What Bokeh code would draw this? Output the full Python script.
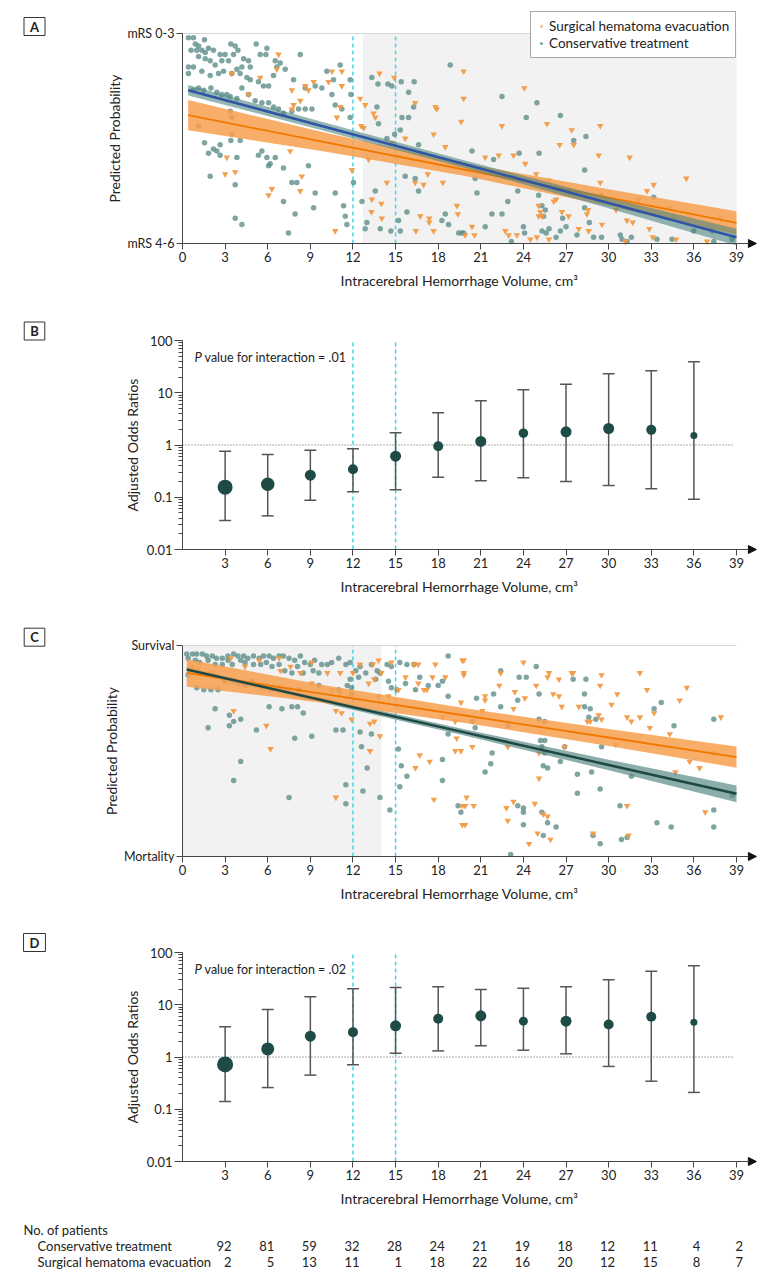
import numpy as np
from bokeh.plotting import figure
from bokeh.models import (Range1d, FixedTicker, Label, Legend, LegendItem, Arrow,
                          NormalHead, PrintfTickFormatter)
from bokeh.layouts import column
from bokeh.embed import file_html
from bokeh.resources import INLINE
from bokeh.core.properties import value

FONT = "Lato"
TXT = "#222222"
AX = "#444444"
TEAL = "#5F8F8B"
ORANGE = "#F29A45"
DARK = "#1F4B47"
CYAN = "#3FD7E6"

# ---------------- data ----------------
volume_ticks = list(range(0, 40, 3))
or_ticks = list(range(3, 40, 3))
or_volumes = list(range(3, 37, 3))
count_volumes = list(range(3, 40, 3))
n_conservative = [92, 81, 59, 32, 28, 24, 21, 19, 18, 12, 11, 4, 2]
n_surgical = [2, 5, 13, 11, 1, 18, 22, 16, 20, 12, 15, 8, 7]

thresholds = [12, 15]
shade_A = [12.7, 39]
shade_C = [0, 14]

# Panel B: functional outcome odds ratios
B_or = [0.156, 0.178, 0.264, 0.344, 0.61, 0.95, 1.17, 1.68, 1.79, 2.07, 1.95, 1.52]
B_lo = [0.036, 0.044, 0.088, 0.127, 0.139, 0.242, 0.206, 0.236, 0.20, 0.168, 0.145, 0.092]
B_hi = [0.76, 0.66, 0.79, 0.85, 1.71, 4.13, 7.0, 11.4, 14.6, 23.0, 26.3, 39.1]
B_size = [15, 13.5, 11, 10, 11, 10, 11, 9.5, 11, 11, 10, 7]

# Panel D: mortality odds ratios
D_or = [0.72, 1.43, 2.5, 2.99, 3.96, 5.38, 6.14, 4.85, 4.85, 4.19, 5.88, 4.63]
D_lo = [0.14, 0.26, 0.45, 0.71, 1.18, 1.31, 1.64, 1.35, 1.15, 0.66, 0.344, 0.21]
D_hi = [3.78, 8.1, 14.2, 20.2, 21.4, 22.0, 19.6, 20.7, 22.0, 30.0, 43.9, 55.7]
D_size = [16, 13, 11, 10, 11, 10, 11, 9, 11, 10, 10, 7]

# Panel A fitted lines (predicted probability of mRS 0-3)
fit_x_A = [0.4, 10, 20, 30, 39]
A_cons_fit = [0.73, 0.556, 0.375, 0.193, 0.03]
A_cons_half = [0.025, 0.02, 0.018, 0.025, 0.04]
A_surg_fit = [0.611, 0.483, 0.35, 0.218, 0.098]
A_surg_half = [0.072, 0.045, 0.03, 0.04, 0.055]

# Panel C fitted lines (predicted probability of survival)
fit_x_C = [0.3, 10, 20, 30, 39]
C_cons_fit = [0.886, 0.738, 0.586, 0.434, 0.297]
C_cons_half = [0.012, 0.012, 0.015, 0.025, 0.04]
C_surg_fit = [0.87, 0.77, 0.667, 0.564, 0.471]
C_surg_half = [0.065, 0.042, 0.035, 0.04, 0.05]

A_conservative_pts = [
    (0.42, 0.98), (0.77, 0.98), (1.55, 0.97), (0.9, 0.95), (1.13, 0.94), (0.6, 0.92), (1.0, 0.92), (1.36, 0.92), (1.6, 0.91), (1.83, 0.93),
    (2.18, 0.92), (2.65, 0.90), (3.0, 0.90), (3.4, 0.95), (3.71, 0.94), (3.9, 0.92), (3.59, 0.90), (4.3, 0.88), (5.19, 0.95), (5.94, 0.93),
    (5.47, 0.90), (5.87, 0.90), (4.65, 0.87), (4.77, 0.84), (4.18, 0.84), (3.83, 0.83), (3.24, 0.87), (2.77, 0.87), (2.3, 0.85), (1.95, 0.87),
    (1.6, 0.88), (1.13, 0.89), (0.42, 0.84), (0.77, 0.84), (1.36, 0.82), (0.42, 0.81), (1.95, 0.80), (2.54, 0.81), (2.89, 0.82), (3.47, 0.81),
    (4.06, 0.81), (4.53, 0.79), (4.77, 0.78), (5.35, 0.77), (5.7, 0.75), (6.06, 0.75), (6.53, 0.87), (6.64, 0.84), (6.41, 0.80), (6.88, 0.86),
    (7.23, 0.83), (8.29, 0.90), (7.82, 0.78), (8.64, 0.74), (9.34, 0.75), (9.81, 0.74), (10.16, 0.82), (11.1, 0.85), (10.63, 0.78), (10.52, 0.71),
    (10.75, 0.66), (11.22, 0.64), (11.8, 0.78), (11.8, 0.60), (11.85, 0.71),
    (0.77, 0.73), (1.13, 0.74), (1.5, 0.73), (2.0, 0.74), (2.42, 0.72), (2.77, 0.71), (3.12, 0.71), (3.36, 0.70), (3.83, 0.69), (4.18, 0.74),
    (4.65, 0.71), (5.12, 0.68), (5.59, 0.67), (6.06, 0.67), (6.41, 0.65), (6.76, 0.64), (7.11, 0.62), (7.7, 0.63), (8.17, 0.64), (8.64, 0.64), (9.11, 0.64),
    (1.13, 0.56), (1.55, 0.48), (1.83, 0.43), (1.95, 0.32), (2.18, 0.45), (2.42, 0.44), (2.65, 0.42), (2.65, 0.47), (3.36, 0.63), (3.47, 0.60),
    (3.47, 0.52), (3.4, 0.49), (3.83, 0.41), (4.06, 0.49), (3.71, 0.28), (3.71, 0.12), (4.18, 0.09), (5.35, 0.42), (5.59, 0.44), (5.94, 0.41),
    (6.17, 0.38), (6.06, 0.37), (6.53, 0.41), (7.11, 0.36), (7.11, 0.20), (7.46, 0.05), (7.7, 0.29), (7.93, 0.14), (8.05, 0.29), (8.87, 0.37),
    (9.23, 0.17), (9.34, 0.24), (10.75, 0.24), (11.34, 0.18), (11.46, 0.13), (11.57, 0.09), (12.04, 0.29), (12.63, 0.20), (12.86, 0.07), (12.98, 0.10),
    (13.57, 0.25), (13.92, 0.07), (14.67, 0.06), (15.21, 0.11), (15.33, 0.06), (15.8, 0.15), (15.68, 0.32), (16.38, 0.31), (16.62, 0.25), (18.26, 0.11),
    (18.5, 0.14), (18.73, 0.09), (18.85, 0.85), (19.44, 0.05), (19.79, 0.05),
    (13.33, 0.79), (13.76, 0.76), (14.46, 0.76), (14.74, 0.75), (15.4, 0.77), (15.92, 0.72), (16.31, 0.77), (16.27, 0.65), (15.45, 0.60), (15.92, 0.60),
    (13.69, 0.65), (13.8, 0.57), (14.39, 0.50), (14.93, 0.52), (16.62, 0.47), (15.33, 0.54),
    (22.49, 0.70), (24.95, 0.67), (24.2, 0.60), (26.6, 0.61), (27.54, 0.49), (28.4, 0.51), (20.38, 0.44), (23.7, 0.43), (25.1, 0.43), (21.9, 0.40),
    (28.31, 0.35), (20.6, 0.31), (20.73, 0.24), (23.6, 0.25), (25.07, 0.23), (22.9, 0.20), (21.78, 0.14), (22.49, 0.14), (25.3, 0.18), (25.54, 0.16),
    (25.42, 0.13), (26.76, 0.12), (27.0, 0.08), (26.6, 0.06), (25.8, 0.07), (25.31, 0.06), (25.6, 0.05), (26.3, 0.03), (24.0, 0.08), (24.08, 0.05),
    (23.15, 0.01), (21.31, 0.08), (19.67, 0.05), (28.31, 0.17), (28.64, 0.10), (29.5, 0.23), (28.94, 0.03), (29.5, 0.03), (27.77, 0.04), (30.82, 0.04),
    (31.6, 0.03), (30.94, 0.02), (31.29, 0.01), (33.17, 0.22), (33.4, 0.02), (34.46, 0.02), (34.58, 0.13), (35.99, 0.06), (37.4, 0.01), (37.3, 0.06),
    (38.68, 0.02), (19.44, 0.38),
]

A_surgical_pts = [
    (6.76, 0.90), (3.47, 0.81), (5.47, 0.79), (4.65, 0.71), (6.64, 0.83), (7.7, 0.73), (7.82, 0.66), (7.7, 0.64), (8.29, 0.68), (8.64, 0.75),
    (8.87, 0.73), (9.23, 0.77), (10.28, 0.77), (10.52, 0.82), (11.22, 0.82), (11.22, 0.75), (11.1, 0.65), (10.87, 0.60), (12.51, 0.69), (12.86, 0.66),
    (13.45, 0.62), (13.57, 0.60), (12.58, 0.56), (12.75, 0.55), (13.87, 0.81), (14.9, 0.79), (16.38, 0.67), (15.68, 0.50), (14.74, 0.48), (17.8, 0.65),
    (17.9, 0.64), (17.68, 0.52), (18.5, 0.46), (19.79, 0.82), (19.79, 0.69), (3.12, 0.41), (3.0, 0.33), (3.71, 0.34), (6.29, 0.26), (6.06, 0.23),
    (8.29, 0.25), (8.4, 0.32), (7.58, 0.44), (10.75, 0.06), (11.92, 0.35), (13.1, 0.40), (13.33, 0.21), (13.3, 0.15), (14.0, 0.19), (14.03, 0.12),
    (14.39, 0.29), (16.38, 0.29), (16.97, 0.28), (17.27, 0.33), (18.33, 0.29), (16.43, 0.06), (16.74, 0.13), (17.37, 0.12), (17.37, 0.10), (17.68, 0.06),
    (19.32, 0.18), (19.39, 0.14),
    (19.62, 0.58), (24.06, 0.74), (22.49, 0.56), (25.66, 0.57), (27.4, 0.54), (26.55, 0.47), (27.54, 0.47), (29.41, 0.56), (29.3, 0.42),
    (31.48, 0.41), (21.31, 0.41), (22.26, 0.42), (23.3, 0.42), (24.13, 0.38), (24.9, 0.33), (25.77, 0.30), (26.3, 0.21), (26.13, 0.20), (25.07, 0.18),
    (25.19, 0.15), (25.07, 0.13), (25.31, 0.13), (26.71, 0.15), (27.18, 0.13), (28.55, 0.16), (28.47, 0.14), (27.89, 0.07), (28.59, 0.06), (29.41, 0.29),
    (29.53, 0.09), (30.52, 0.16), (31.29, 0.11), (31.7, 0.10), (32.11, 0.21), (32.7, 0.25), (33.17, 0.28), (32.86, 0.07), (33.1, 0.03), (34.28, 0.17),
    (34.74, 0.02), (35.47, 0.31), (37.86, 0.12), (36.92, 0.01), (20.38, 0.08), (19.9, 0.04), (20.56, 0.04), (22.72, 0.06), (23.54, 0.04), (24.49, 0.02),
    (24.95, 0.03), (25.8, 0.02), (22.96, 0.04), (31.17, 0.01),
]

C_conservative_pts = [
    (0.3, 0.96), (0.7, 0.96), (1.0, 0.96), (1.4, 0.96), (1.7, 0.95), (2.1, 0.95), (2.4, 0.94), (2.8, 0.94), (3.2, 0.95), (3.6, 0.96),
    (3.9, 0.95), (4.3, 0.95), (4.6, 0.94), (5.0, 0.95), (5.4, 0.94), (5.7, 0.95), (6.1, 0.95), (6.4, 0.94), (6.8, 0.95), (7.1, 0.95),
    (7.5, 0.94), (7.9, 0.93), (8.3, 0.95), (8.6, 0.92), (9.0, 0.91), (9.3, 0.93), (9.8, 0.91), (10.2, 0.91), (10.5, 0.92), (11.0, 0.94),
    (11.5, 0.91), (11.8, 0.92), (12.2, 0.88), (12.5, 0.90), (12.9, 0.87), (13.3, 0.91), (13.7, 0.88), (13.9, 0.87), (14.4, 0.91), (14.7, 0.90),
    (15.3, 0.92), (15.8, 0.91), (16.3, 0.91), (16.7, 0.85), (17.3, 0.81), (18.0, 0.81), (18.7, 0.95), (18.3, 0.83), (18.7, 0.76), (14.5, 0.83),
    (14.7, 0.80), (15.1, 0.79), (15.7, 0.82), (16.4, 0.79), (11.8, 0.84), (11.9, 0.80), (12.4, 0.85), (13.6, 0.84),
    (0.4, 0.94), (0.9, 0.93), (1.2, 0.92), (1.8, 0.93), (2.3, 0.91), (2.8, 0.91), (3.2, 0.93), (3.5, 0.91), (4.1, 0.93), (4.4, 0.92),
    (5.0, 0.91), (5.5, 0.91), (5.9, 0.92), (6.3, 0.90), (6.8, 0.91), (7.2, 0.88), (7.7, 0.87), (8.1, 0.90), (8.5, 0.87), (9.2, 0.88), (9.6, 0.87),
    (0.4, 0.86), (1.0, 0.80), (1.5, 0.79), (2.0, 0.79), (2.5, 0.79), (3.0, 0.83), (3.5, 0.83), (3.9, 0.82), (4.4, 0.81), (4.9, 0.83),
    (5.6, 0.80), (6.2, 0.79), (6.8, 0.80), (7.5, 0.79), (8.2, 0.79), (9.6, 0.81), (11.0, 0.79), (11.6, 0.81), (11.9, 0.77),
    (2.3, 0.70), (3.3, 0.67), (3.6, 0.64), (3.3, 0.62), (4.1, 0.65), (1.8, 0.61), (5.2, 0.60), (6.1, 0.71), (7.0, 0.70), (7.7, 0.71),
    (8.1, 0.71), (8.5, 0.68), (9.1, 0.57), (7.9, 0.56), (4.1, 0.45), (3.6, 0.36), (7.5, 0.28), (10.8, 0.60), (11.3, 0.60), (12.5, 0.59),
    (13.3, 0.58), (12.6, 0.52), (11.5, 0.34), (13.0, 0.42), (12.7, 0.31), (11.5, 0.25), (13.9, 0.28), (14.6, 0.22), (15.2, 0.51), (15.4, 0.43),
    (15.8, 0.38), (15.3, 0.33), (18.3, 0.46), (18.3, 0.36), (18.7, 0.58), (19.4, 0.24), (19.6, 0.21),
    (24.9, 0.90), (23.7, 0.85), (24.2, 0.85), (22.4, 0.88), (27.5, 0.84), (28.4, 0.84), (25.1, 0.77), (21.9, 0.77), (20.7, 0.75), (22.4, 0.71),
    (23.6, 0.74), (28.3, 0.77), (28.3, 0.71), (28.7, 0.70), (33.7, 0.73), (33.2, 0.70), (28.6, 0.66), (29.1, 0.65), (34.6, 0.62), (37.4, 0.65),
    (20.4, 0.64), (20.6, 0.61), (25.1, 0.65), (25.5, 0.64), (22.9, 0.62), (25.2, 0.55), (25.5, 0.55), (25.3, 0.52), (25.5, 0.49), (26.9, 0.52),
    (26.6, 0.45), (29.5, 0.52), (21.8, 0.49), (21.7, 0.44), (21.3, 0.40), (25.4, 0.43), (25.7, 0.42), (27.8, 0.39), (28.8, 0.40), (31.6, 0.38),
    (29.4, 0.32), (27.8, 0.30), (38.7, 0.29), (30.8, 0.24), (37.4, 0.22), (37.4, 0.14), (33.4, 0.16), (34.4, 0.14), (23.6, 0.24), (24.0, 0.23),
    (24.0, 0.21), (24.0, 0.15), (25.3, 0.21), (25.7, 0.16), (26.3, 0.14), (25.4, 0.10), (28.9, 0.10), (29.4, 0.06), (30.9, 0.08), (31.3, 0.09),
    (23.1, 0.01),
]

C_surgical_pts = [
    (3.4, 0.94), (5.4, 0.93), (6.8, 0.94), (7.6, 0.90), (8.3, 0.87), (9.1, 0.92), (10.2, 0.87), (11.1, 0.87), (12.0, 0.87), (12.5, 0.91),
    (13.4, 0.91), (13.8, 0.93), (14.0, 0.87), (13.1, 0.82), (13.5, 0.84), (14.7, 0.92), (16.3, 0.91), (16.6, 0.91), (17.8, 0.91), (15.7, 0.85),
    (16.6, 0.82), (17.0, 0.79), (17.2, 0.79), (17.6, 0.85), (18.5, 0.85), (19.8, 0.93), (19.8, 0.87), (13.8, 0.76), (14.5, 0.76), (15.2, 0.79),
    (0.7, 0.90), (1.1, 0.89), (2.1, 0.87), (4.4, 0.90), (6.9, 0.88), (9.1, 0.82), (10.5, 0.79), (11.1, 0.77),
    (3.6, 0.69), (5.9, 0.62), (6.2, 0.51), (10.8, 0.69), (11.2, 0.68), (11.9, 0.65), (13.2, 0.63), (13.5, 0.64), (13.9, 0.57), (13.2, 0.50),
    (10.8, 0.28), (16.7, 0.48), (17.4, 0.45), (16.4, 0.42), (17.7, 0.27), (18.3, 0.66), (19.2, 0.64), (19.2, 0.50), (19.6, 0.50), (19.3, 0.56),
    (19.7, 0.24), (19.7, 0.15),
    (19.7, 0.93), (19.8, 0.86), (19.6, 0.73), (24.0, 0.92), (22.4, 0.87), (22.3, 0.81), (21.3, 0.76), (21.3, 0.74), (23.4, 0.78), (24.1, 0.75),
    (23.3, 0.70), (24.9, 0.81), (25.7, 0.85), (25.8, 0.87), (26.5, 0.84), (26.1, 0.77), (26.5, 0.76), (26.7, 0.71), (27.4, 0.87), (27.5, 0.87),
    (29.4, 0.81), (29.5, 0.86), (27.9, 0.71), (28.5, 0.64), (28.7, 0.64), (29.5, 0.65), (29.3, 0.67), (30.2, 0.72), (30.6, 0.77), (31.3, 0.66),
    (31.6, 0.64), (32.2, 0.66), (32.2, 0.87), (32.7, 0.79), (33.2, 0.68), (32.9, 0.61), (34.3, 0.58), (35.0, 0.74), (35.5, 0.80), (37.9, 0.66),
    (37.4, 0.49), (35.7, 0.45), (36.4, 0.42), (34.7, 0.40), (20.4, 0.52), (21.1, 0.69), (22.9, 0.52), (25.1, 0.37), (25.1, 0.49), (26.9, 0.52),
    (30.5, 0.53), (20.0, 0.28), (19.9, 0.24), (20.5, 0.24), (19.9, 0.15), (23.3, 0.26), (22.8, 0.23), (22.9, 0.17), (24.8, 0.25), (25.4, 0.20),
    (25.7, 0.19), (25.0, 0.11), (25.9, 0.08), (24.4, 0.06), (28.9, 0.11), (31.3, 0.24), (31.4, 0.10), (36.8, 0.21),
]

# ---------------- layout constants (pixels) ----------------
PAGE_W = 780
AXIS_LEFT_PX = 182          # page x of volume 0
PX_PER_CM3 = 554 / 39       # volume 0..39 spans 554 px
X_END = 40.4                # arrow tip
X_TITLE = "Intracerebral Hemorrhage Volume, cm\u00b3"
x_start = -AXIS_LEFT_PX / PX_PER_CM3
x_end = x_start + PAGE_W / PX_PER_CM3


def xy(pts):
    a = np.array(pts, dtype=float)
    return a[:, 0], a[:, 1]


def make_fig(height, top_px, plot_px, lo, hi, log=False):
    """Figure whose frame is the whole canvas; axes sit at fixed data positions."""
    bottom_px = height - top_px - plot_px
    if log:
        dec = plot_px / (np.log10(hi) - np.log10(lo))
        y0 = 10 ** (np.log10(lo) - bottom_px / dec)
        y1 = 10 ** (np.log10(hi) + top_px / dec)
    else:
        u = plot_px / (hi - lo)
        y0 = lo - bottom_px / u
        y1 = hi + top_px / u
    p = figure(frame_width=PAGE_W, frame_height=height,
               x_range=Range1d(x_start, x_end), y_range=Range1d(y0, y1),
               y_axis_type="log" if log else "linear", min_border=0,
               output_backend="svg", toolbar_location=None)
    p.grid.visible = False
    p.outline_line_color = None
    p.background_fill_color = "white"
    p.border_fill_color = "white"
    p.xaxis.fixed_location = lo
    p.yaxis.fixed_location = 0
    p.xaxis.bounds = (0, 39)
    p.yaxis.bounds = (lo, hi)
    for ax in (p.xaxis[0], p.yaxis[0]):
        ax.axis_line_color = AX
        ax.axis_line_width = 1
        ax.major_tick_line_color = AX
        ax.minor_tick_line_color = AX
        ax.major_tick_in = 0
        ax.major_tick_out = 6
        ax.minor_tick_in = 0
        ax.minor_tick_out = 0
        ax.major_label_text_font = FONT
        ax.major_label_text_font_size = "13px"
        ax.major_label_text_color = TXT
        ax.major_label_standoff = 2
        ax.axis_label_text_font = FONT
        ax.axis_label_text_font_size = "14px"
        ax.axis_label_text_font_style = "normal"
        ax.axis_label_text_color = TXT
    p.xaxis.axis_label = X_TITLE
    p.xaxis.axis_label_standoff = 7
    p.add_layout(Arrow(end=NormalHead(size=8, fill_color="#111111", line_color="#111111", line_width=1),
                       x_start=39, y_start=lo, x_end=X_END, y_end=lo,
                       line_color=AX, line_width=1))
    for t in thresholds:
        p.segment(x0=t, y0=lo, x1=t, y1=hi, line_color=CYAN, line_dash="4 3", line_width=1.5)
    return p


def add_letter(p, text, height, center_from_top):
    p.add_layout(Label(x=34, y=height - center_from_top, x_units="screen", y_units="screen",
                       text=text, text_font=FONT, text_font_style="bold", text_font_size="13px",
                       text_color=TXT, text_align="center", text_baseline="middle",
                       border_line_color="#333333", border_line_width=1,
                       background_fill_color="white", padding=(6, 1)))


def prob_panel(height, top_px, plot_px, shade, fit_x, cons_fit, cons_half, surg_fit, surg_half,
               cons_pts, surg_pts, labels, cons_line_color, cons_band_color, cons_band_alpha, order):
    p = make_fig(height, top_px, plot_px, 0, 1)
    p.yaxis.ticker = FixedTicker(ticks=[0, 1])
    p.yaxis.major_label_overrides = {0: labels[0], 1: labels[1]}
    p.yaxis.major_label_text_font_size = "12.5px"
    p.yaxis.axis_label_standoff = 1
    p.xaxis.ticker = FixedTicker(ticks=volume_ticks)
    p.quad(left=[shade[0]], right=[shade[1]], bottom=[0], top=[1], fill_color="#F2F2F2",
           line_color=None, level="underlay")
    p.line([0, 39], [1, 1], line_color="#D5D5D5", line_width=1.2)
    cx, cy = xy(cons_pts)
    sx, sy = xy(surg_pts)
    rc = p.scatter(cx, cy, size=5.5, marker="circle", fill_color=TEAL, fill_alpha=0.8, line_color=None)
    rs = p.scatter(sx, sy, size=6.5, marker="inverted_triangle", fill_color=ORANGE, fill_alpha=0.95, line_color=None)
    fx = np.array(fit_x)
    cf, ch = np.array(cons_fit), np.array(cons_half)
    sf, shh = np.array(surg_fit), np.array(surg_half)
    if order == "A":
        p.varea(x=fx, y1=sf - shh, y2=sf + shh, fill_color="#F7A04E", fill_alpha=0.85)
        p.line(fx, sf, line_color="#F07800", line_width=1.8)
        p.varea(x=fx, y1=cf - ch, y2=cf + ch, fill_color=cons_band_color, fill_alpha=cons_band_alpha)
        p.line(fx, cf, line_color=cons_line_color, line_width=2.5)
    else:
        p.varea(x=fx, y1=cf - ch, y2=cf + ch, fill_color=cons_band_color, fill_alpha=cons_band_alpha)
        p.varea(x=fx, y1=sf - shh, y2=sf + shh, fill_color="#F7A04E", fill_alpha=0.85)
        p.line(fx, sf, line_color="#F07800", line_width=1.8)
        p.line(fx, cf, line_color=cons_line_color, line_width=2.5)
    p.yaxis.axis_label = "Predicted Probability"
    return p, rc, rs


def or_panel(height, top_px, plot_px, ors, lo, hi, sizes, ptext):
    p = make_fig(height, top_px, plot_px, 0.01, 100, log=True)
    minors = [k * 10.0 ** e for e in range(-2, 2) for k in range(2, 10)]
    p.yaxis.ticker = FixedTicker(ticks=[0.01, 0.1, 1, 10, 100], minor_ticks=minors)
    p.yaxis.formatter = PrintfTickFormatter(format="%g")
    p.yaxis.major_tick_out = 8
    p.yaxis.minor_tick_out = 4
    p.yaxis.axis_label_standoff = 3
    p.xaxis.ticker = FixedTicker(ticks=or_ticks)
    p.line([0, 38.8], [1, 1], line_color="#555555", line_dash="1 2", line_width=1)
    x = np.array(or_volumes, dtype=float)
    cap = 0.42
    p.segment(x, lo, x, hi, line_color="#555555", line_width=1.5)
    p.segment(x - cap, lo, x + cap, lo, line_color="#555555", line_width=1.5)
    p.segment(x - cap, hi, x + cap, hi, line_color="#555555", line_width=1.5)
    p.scatter(x, ors, size=sizes, marker="circle", fill_color=DARK, line_color=None)
    p.add_layout(Label(x=0.85, y=48, text="P", text_font=FONT, text_font_style="italic",
                       text_font_size="13px", text_color=TXT, text_baseline="middle"))
    p.add_layout(Label(x=0.85, y=48, x_offset=10, text=ptext, text_font=FONT,
                       text_font_size="12.5px", text_color=TXT, text_baseline="middle"))
    p.yaxis.axis_label = "Adjusted Odds Ratios"
    return p


# Panel A  (page rows 0..300)
pA, rcA, rsA = prob_panel(300, 33, 210, shade_A, fit_x_A, A_cons_fit, A_cons_half, A_surg_fit, A_surg_half,
                          A_conservative_pts, A_surgical_pts, ("mRS 4-6", "mRS 0-3"),
                          "#2F55A4", "#4F8580", 0.6, "A")
add_letter(pA, "A", 300, 26)
legend = Legend(items=[LegendItem(label="Surgical hematoma evacuation", renderers=[rsA]),
                       LegendItem(label="Conservative treatment", renderers=[rcA])],
                location=(530, 300 - 58), orientation="vertical",
                border_line_color="#555555", border_line_width=1, background_fill_color="white",
                background_fill_alpha=1, padding=6, spacing=1, margin=0,
                glyph_width=8, glyph_height=16, label_height=16, label_standoff=4,
                label_text_font=FONT, label_text_font_size="13.5px", label_text_color=TXT)
pA.add_layout(legend)

# Panel B  (page rows 300..605)
pB = or_panel(305, 40, 209, B_or, B_lo, B_hi, B_size, "value for interaction = .01")
add_letter(pB, "B", 305, 30.5)

# Panel C  (page rows 605..910)
pC, rcC, rsC = prob_panel(305, 40, 211, shade_C, fit_x_C, C_cons_fit, C_cons_half, C_surg_fit, C_surg_half,
                          C_conservative_pts, C_surgical_pts, ("Mortality", "Survival"),
                          "#1E4843", "#5B8C88", 0.7, "C")
add_letter(pC, "C", 305, 31.7)

# Panel D  (page rows 910..1212)
pD = or_panel(302, 42, 209, D_or, D_lo, D_hi, D_size, "value for interaction = .02")
add_letter(pD, "D", 302, 32)

# Number-at-risk table (page rows 1212..1274)
T_H = 62
pT = figure(frame_width=PAGE_W, frame_height=T_H, x_range=Range1d(x_start, x_end), y_range=Range1d(0, T_H),
            min_border=0, x_axis_location=None, y_axis_location=None,
            output_backend="svg", toolbar_location=None)
pT.grid.visible = False
pT.outline_line_color = None
row_y = {"head": T_H - 17, "cons": T_H - 33, "surg": T_H - 49}
for key, counts in (("cons", n_conservative), ("surg", n_surgical)):
    pT.text(x=count_volumes, y=[row_y[key]] * len(count_volumes), text=[str(n) for n in counts],
            text_align="right", text_baseline="middle", x_offset=6.5,
            text_font=value(FONT), text_font_size="13px", text_color=TXT)
for txt, xx, yy in [("No. of patients", 23, row_y["head"]),
                    ("Conservative treatment", 37, row_y["cons"]),
                    ("Surgical hematoma evacuation", 37, row_y["surg"])]:
    pT.add_layout(Label(x=xx, y=yy, x_units="screen", y_units="screen", text=txt, text_font=FONT,
                        text_font_size="13px", text_color=TXT, text_baseline="middle"))

layout = column(pA, pB, pC, pD, pT, spacing=0)
open("out.html", "w").write(file_html(layout, INLINE))
